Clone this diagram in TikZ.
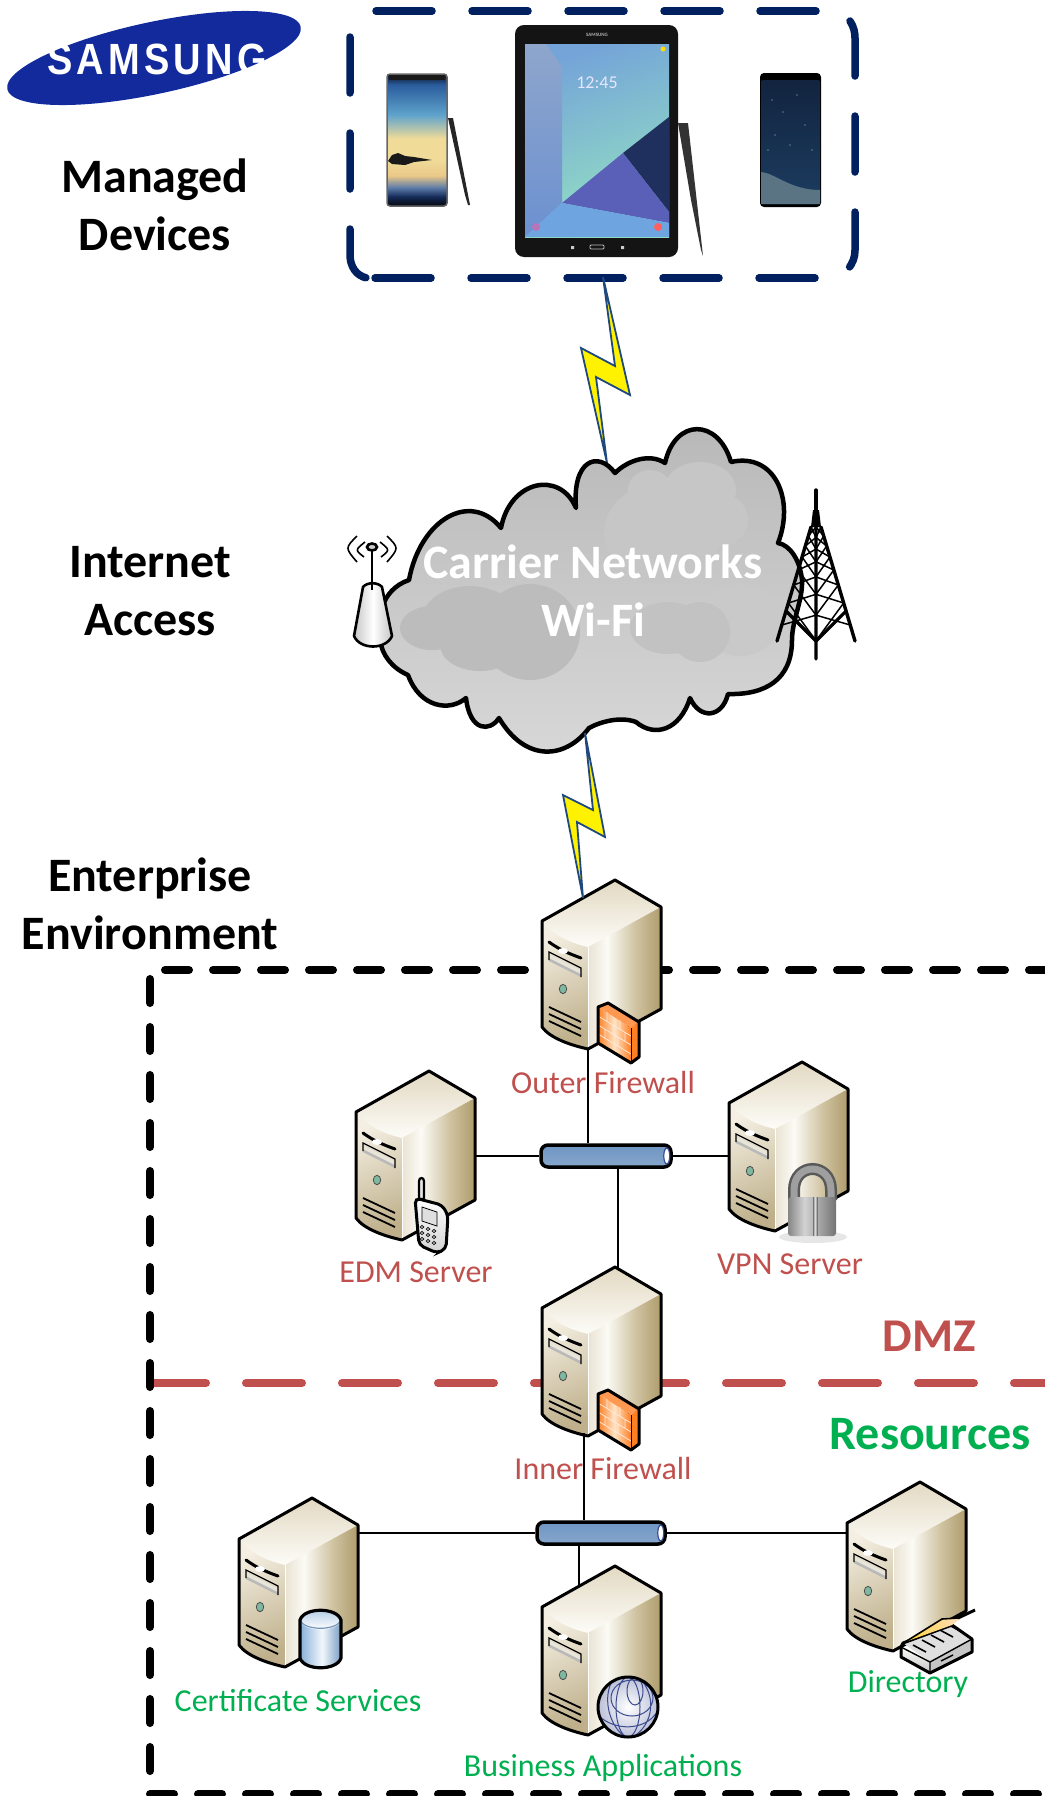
\documentclass[tikz,border=0pt]{standalone}
\usepackage{fontspec}
\usetikzlibrary{shapes.geometric,calc}
\setmainfont{Carlito}
\newfontfamily\logofont[LetterSpace=11.3]{Liberation Sans Bold}
\definecolor{navybox}{HTML}{002060}
\definecolor{dmzred}{HTML}{C0504D}
\definecolor{resgreen}{HTML}{00B050}
\definecolor{boltblue}{HTML}{1F497D}
\definecolor{logoblue}{HTML}{122A9C}
\definecolor{topa}{HTML}{E2D9C2}
\definecolor{topb}{HTML}{FDFCF8}
\definecolor{fronta}{HTML}{F4EFE2}
\definecolor{frontb}{HTML}{BFB08B}
\definecolor{righta}{HTML}{E9E3D2}
\definecolor{rightb}{HTML}{FBFAF5}
\definecolor{rightc}{HTML}{CFC2A0}
\definecolor{rightd}{HTML}{AF9C6C}
\definecolor{slota}{HTML}{E8E4D8}
\definecolor{leda}{HTML}{7FB8A0}
\definecolor{fwa}{HTML}{FF7F24}
\definecolor{fwb}{HTML}{FFE3C4}
\definecolor{tubea}{HTML}{6F95C2}
\definecolor{tubeb}{HTML}{B9CFE6}
\definecolor{tubec}{HTML}{86A7CC}
\definecolor{cyla}{HTML}{86AFD8}
\definecolor{cylb}{HTML}{F2F7FC}
\definecolor{globeline}{HTML}{3C4A8E}
\definecolor{cloudtop}{HTML}{B8B8B8}
\definecolor{cloudbot}{HTML}{D8D8D8}
\definecolor{nblack}{HTML}{0A0F1E}
\definecolor{nnavy}{HTML}{142A58}
\definecolor{nblue}{HTML}{2A5C9C}
\definecolor{nsky}{HTML}{5FA3CC}
\definecolor{npale}{HTML}{F0DC98}
\definecolor{ntan}{HTML}{EAC888}
\definecolor{nfade}{HTML}{5E7CA8}
\definecolor{tabstripa}{HTML}{8EA6CC}
\definecolor{tabstripb}{HTML}{6C90D0}
\definecolor{tealleft}{HTML}{74A4D8}
\definecolor{tealright}{HTML}{94E2C2}
\definecolor{tabnavy}{HTML}{20305E}
\definecolor{tabpurple}{HTML}{5A60B8}
\definecolor{tabblue}{HTML}{6EA4E0}
\definecolor{s8top}{HTML}{12243F}
\definecolor{s8bot}{HTML}{1C3C60}
\definecolor{s8wave}{HTML}{5A7484}
\pgfdeclarehorizontalshading{srvright}{100bp}{color(0bp)=(righta); color(25bp)=(righta); color(38bp)=(rightb); color(58bp)=(rightc); color(75bp)=(rightd); color(100bp)=(rightd)}
\pgfdeclarehorizontalshading{fwbrick}{100bp}{color(0bp)=(fwa); color(25bp)=(fwa); color(50bp)=(fwb); color(75bp)=(fwa); color(100bp)=(fwa)}
\pgfdeclarehorizontalshading{cylbody}{100bp}{color(0bp)=(cyla); color(25bp)=(cyla); color(52bp)=(cylb); color(75bp)=(cyla!90!black); color(100bp)=(cyla!90!black)}
\pgfdeclarehorizontalshading{lockbody}{100bp}{color(0bp)=(gray!95); color(25bp)=(gray!95); color(42bp)=(gray!35); color(55bp)=(gray!65); color(75bp)=(black!55); color(100bp)=(black!55)}
\pgfdeclareverticalshading{notescreen}{100bp}{color(0bp)=(nblack); color(26bp)=(nblack); color(28.5bp)=(nnavy); color(32bp)=(nfade); color(36.5bp)=(ntan); color(42.5bp)=(npale); color(50.5bp)=(npale); color(59.5bp)=(nsky); color(71bp)=(nblue); color(75bp)=(nblack); color(100bp)=(nblack)}
\tikzset{
  fontlarge/.style={font=\fontsize{48}{58}\selectfont\bfseries,align=center,inner sep=0,text=black},
  headred/.style={font=\fontsize{47}{52}\selectfont\bfseries,inner sep=0,text=dmzred},
  headgreen/.style={font=\fontsize{48}{52}\selectfont\bfseries,inner sep=0,text=resgreen},
  lblred/.style={font=\fontsize{32}{36}\selectfont,inner sep=0,text=dmzred},
  lblgreen/.style={font=\fontsize{32}{36}\selectfont,inner sep=0,text=resgreen},
  bluedash/.style={draw=navybox,line width=7.5,line cap=round,dash pattern=on 56 off 40},
  blackdash/.style={draw=black,line width=8,line cap=round,dash pattern=on 24 off 24},
  reddash/.style={draw=dmzred,line width=8,line cap=round,dash pattern=on 56 off 40},
  wire/.style={draw=black,line width=2.2},
  busnode/.style={draw=black,line width=3.5,rounded corners=7,minimum height=22,inner sep=0,top color=tubea,middle color=tubeb,bottom color=tubec},
  boltstyle/.style={draw=boltblue,fill=yellow,line width=1.8,line join=miter},
  server/.pic={
    \coordinate (-apex) at (0,0);
    \coordinate (-bot) at (-27,169);
    \coordinate (-botl) at (-31,166);
    \coordinate (-r) at (46,85);
    \coordinate (-l) at (-73,85);
    \coordinate (-tr) at (3,2);
    \coordinate (-tl) at (-32,18);
    \coordinate (-tm) at (-36,20);
    \shade[top color=topa,bottom color=topb] (0,0) -- (46,27) -- (-27,67) .. controls (-45,63) and (-62,55) .. (-73,41) -- cycle;
    \shade[shading=srvright] (46,27) -- (46,129) -- (-27,169) -- (-27,67) -- cycle;
    \shade[top color=fronta,bottom color=frontb,shading angle=25] (-73,41) .. controls (-62,55) and (-45,63) .. (-27,67) -- (-27,169) .. controls (-45,165) and (-65,158) .. (-73,147) -- cycle;
    \draw[white,line width=1] (-27,67) -- (-27,169);
    \draw[black,line width=3,line join=round] (0,0) -- (46,27) -- (46,129) -- (-27,169) .. controls (-45,165) and (-65,158) .. (-73,147) -- (-73,41) -- cycle;
    \fill[gray!55] (-66,74) -- (-34,90) -- (-34,97) -- (-66,81) -- cycle;
    \fill[slota] (-66,74) -- (-34,90) -- (-34,94) -- (-66,78) -- cycle;
    \draw[black,line width=1.2] (-66,80) -- (-66,72) -- (-34,88) -- (-34,97);
    \draw[black,line width=3,line cap=round] (-66,62) .. controls (-55,70) and (-45,74) .. (-34,78);
    \fill[white] (-52,71) ellipse (5 and 3);
    \draw[black!70,line width=.8,fill=leda] (-52,109) ellipse (3.7 and 4.7);
    \draw[black,line width=1.8] (-66,127) -- (-34,142) (-66,134) -- (-34,149) (-66,141) -- (-34,156);
  },
  firewall/.pic={
    \fill[fwa!80!white] (-17,127) -- (-7,123) -- (24,142) -- (16,148) -- cycle;
    \fill[fwa] (16,148) -- (24,142) -- (24,177) -- (16,183) -- cycle;
    \shade[shading=fwbrick] (-17,127) -- (16,148) -- (16,183) -- (-17,163) -- cycle;
    \draw[white!85!fwa,line width=.7] (-17,136) -- (16,156) (-17,145) -- (16,165) (-17,154) -- (16,174)
      (-8,132) -- (-8,141) (5,140) -- (5,149) (-2,145) -- (-2,154) (10,152) -- (10,161) (-10,149) -- (-10,158) (3,157) -- (3,166);
    \draw[black,line width=3,line join=round] (-17,127) -- (-7,123) -- (24,142) -- (24,177) -- (16,183) -- (-17,163) -- cycle;
    \draw[black,line width=1] (16,148) -- (16,183);
  },
  cellphone/.pic={
    \draw[black,line width=2.2,fill=gray!20] (-10,110) .. controls (-10,106) and (-5,106) .. (-5,110) -- (-5,128) -- (-10,128) -- cycle;
    \draw[black,line width=3,top color=white,bottom color=gray!35,rounded corners=5] (-14,127) -- (13,134) -- (19,144) -- (17,178) -- (8,182) -- (-10,174) -- cycle;
    \draw[black,line width=.8,fill=gray!25] (-7,136) -- (8,141) -- (8,155) -- (-7,150) -- cycle;
    \foreach \dx/\dy in {-7/156,-1/158,5/160,-7/162,-1/164,5/166,-7/168,-1/170,5/172}
      \draw[black,line width=.7,fill=white] (\dx,\dy) ellipse (1.8 and 1.6);
  },
  padlock/.pic={
    \fill[gray!35,opacity=.55] (11,175) ellipse (34 and 6);
    \draw[black!65,line width=12] (-8,138) -- (-8,128) .. controls (-8,100) and (29,100) .. (29,128) -- (29,138);
    \draw[gray!75,line width=7] (-8,138) -- (-8,128) .. controls (-8,100) and (29,100) .. (29,128) -- (29,138);
    \shade[shading=lockbody,rounded corners=3] (-14,135) rectangle (34,174);
    \draw[black!55,line width=1] (11,135) -- (11,174) (15,135) -- (15,174);
    \draw[gray!30,line width=1] (13,135) -- (13,174);
  },
  dbcyl/.pic={
    \shade[shading=cylbody] (-12,122) -- (-12,160) .. controls (-8,173) and (25,173) .. (29,160) -- (29,122) -- cycle;
    \shade[top color=cyla!60!white,bottom color=white] (8.5,122) ellipse (20.5 and 9.5);
    \draw[cyla!85!black,line width=1.2] (-12,122) .. controls (-8,133) and (25,133) .. (29,122);
    \draw[black,line width=3.2] (-12,122) -- (-12,160) .. controls (-8,173) and (25,173) .. (29,160) -- (29,122) .. controls (25,109) and (-8,109) .. (-12,122) -- cycle;
  },
  globe/.pic={
    \shade[inner color=white,outer color=globeline!35!white] (13,141) ellipse (30 and 30);
    \draw[globeline,line width=1] (13,141) ellipse (12 and 30) (20,125) ellipse (8 and 14) (17,132) ellipse (21 and 18)
      (-16,150) .. controls (0,165) and (30,165) .. (42,146) (-4,117) .. controls (-12,135) and (-5,160) .. (10,171) (28,116) .. controls (42,135) and (36,160) .. (18,171);
    \draw[black,line width=3] (13,141) ellipse (30 and 30);
  },
  dirbox/.pic={
    \shade[top color=topb,bottom color=gray!45] (-22,165) -- (-22,175) -- (7,191) -- (7,180) -- cycle;
    \fill[gray!45] (7,180) -- (49,157) -- (49,170) -- (7,191) -- cycle;
    \fill[gray!25] (-20,161) -- (29,143) -- (49,157) -- (7,180) -- cycle;
    \foreach \i in {0,1,2,3,4}
      \draw[black,line width=1.6] ({-10+\i*9},{163-\i*5}) -- ({3+\i*9},{170-\i*5});
    \draw[black,line width=1.4] (18,179) -- (30,173) (30,180) -- (40,175);
    \draw[black,line width=3,line join=round] (-20,161) -- (-22,165) -- (-22,175) -- (7,191) -- (49,170) -- (49,157) -- (29,143) -- cycle;
    \draw[black,line width=1.4] (7,180) -- (49,157) (-22,165) -- (7,180) -- (7,191);
    \shade[left color=orange!45!yellow!80,right color=orange!25!white] (-18,160) -- (19,137) -- (37,137) -- (29,143) -- cycle;
    \draw[black,line width=1.6] (-18,160) -- (19,137) -- (35,136);
    \draw[black,line width=3] (35,136) -- (52,128);
  },
}
\begin{document}
\begin{tikzpicture}[x=1pt,y=-1pt]
\useasboundingbox (0,0) rectangle (1044,1796);
% --- logo
\node[ellipse,fill=logoblue,minimum width=300,minimum height=72,inner sep=0,rotate=12] (logo) at (154,58) {};
\node[inner sep=0,text=white,font=\fontsize{38}{40}\logofont,yscale=1.15,transform shape] (samsung) at (157,59) {SAMSUNG};
% --- headings
\node[fontlarge] (managed) at (155,205) {Managed\\Devices};
\node[fontlarge] (internet) at (150,591) {Internet\\Access};
\node[fontlarge] (enterprise) at (150,904) {Enterprise\\Environment};
% --- devices box
\foreach \yy/\st in {11/376,278/375}
  \draw[bluedash] (\st,\yy) -- (825,\yy);
\draw[bluedash] (350,37) -- (350,255) .. controls (350,266) and (356,276) .. (367,278);
\draw[bluedash] (850,21) .. controls (854,27) and (855,33) .. (855,38) -- (855,250) .. controls (855,257) and (853,263) .. (848,269);
% phone left
\draw[black!60,line width=1.5,rounded corners=3,shading=notescreen] (387,74) rectangle (447,206);
\fill[black!90] (389,75) rectangle (445,80);
\fill[black!90] (388,161) -- (392,155) -- (398,153) -- (405,156) -- (414,157) -- (432,160) -- (414,162) -- (405,165) -- (392,164) -- cycle;
\fill[black!85] (448,118) -- (453,118) -- (470,205) -- (468,205) -- (465,195) -- cycle;
% tablet
\fill[black!92,rounded corners=9] (515,25) rectangle (678,257);
\shade[left color=tealleft,right color=tealright,shading angle=20] (525,44) rectangle (669,237);
\shade[top color=tabstripa,bottom color=tabstripb] (525,44) -- (546,44) -- (562,67) -- (562,203) -- (525,237) -- cycle;
\fill[tabnavy] (669,117) -- (623,153) -- (669,212) -- cycle;
\fill[tabpurple] (623,153) -- (562,203) -- (669,223) -- (669,212) -- cycle;
\fill[tabblue] (562,203) -- (525,237) -- (669,237) -- (669,223) -- cycle;
\node[inner sep=0,text=white!90!blue,font=\fontsize{18}{20}\selectfont] (clock) at (597,83) {12:45};
\node[inner sep=0,text=white!70!black,font=\fontsize{5}{6}\bfseries\selectfont] (tabbrand) at (597,35) {SAMSUNG};
\fill[violet!55!white] (536,227) circle (4);
\fill[red!50!pink] (658,227) circle (4);
\fill[yellow!80!orange] (663,49) circle (2.5);
\draw[gray!50,line width=.8,rounded corners=1] (590,245) rectangle (604,249);
\fill[gray!40] (571,246) rectangle (574,249) (621,246) rectangle (624,249);
\fill[black!80] (678,123) -- (688,123) -- (703,256) -- (701,250) -- (691,200) -- cycle;
% phone right
\fill[black,rounded corners=4] (760,73) rectangle (821,207);
\shade[top color=s8top,bottom color=s8bot,rounded corners=2] (761,80) rectangle (820,204);
\fill[s8wave] (761,172) .. controls (775,173) and (790,190) .. (820,190) -- (820,204) -- (761,204) -- cycle;
\foreach \sx/\sy in {772/100,783/112,797/95,805/125,775/135,790/145,812/150,768/150}
  \fill[white!75!blue] (\sx,\sy) circle (.6);
% --- bolts
\coordinate (topbolt) at (603,277);
\coordinate (topend) at (607,463);
\draw[boltstyle] (topbolt) -- (630,395) -- (596,377) -- (topend) -- (581,348) -- (615,366) -- cycle;
% --- cloud
\def\cloudpath{(615,473) .. controls (628,460) and (650,453) .. (665,463)
  .. controls (675,418) and (718,418) .. (731,462)
  .. controls (775,452) and (795,500) .. (778,543)
  .. controls (790,545) and (800,560) .. (802,580)
  .. controls (803,600) and (792,620) .. (792,640)
  .. controls (792,680) and (765,695) .. (728,694)
  .. controls (722,718) and (700,720) .. (690,698)
  .. controls (680,730) and (655,738) .. (636,722)
  .. controls (620,716) and (600,722) .. (589,728)
  .. controls (565,760) and (525,762) .. (499,718)
  .. controls (490,732) and (470,732) .. (466,698)
  .. controls (450,712) and (420,708) .. (408,675)
  .. controls (392,668) and (382,655) .. (380,640)
  .. controls (377,620) and (380,590) .. (409,580)
  .. controls (420,520) and (470,490) .. (501,528)
  .. controls (510,480) and (560,470) .. (576,508)
  .. controls (572,460) and (598,450) .. (615,473) -- cycle}
\shade[top color=cloudtop,bottom color=cloudbot] \cloudpath;
\begin{scope}
\clip \cloudpath;
\definecolor{blobd}{HTML}{BCBCBC}
\definecolor{blobe}{HTML}{C2C2C2}
\definecolor{blobf}{HTML}{C9C9C9}
\definecolor{blobg}{HTML}{C6C6C6}
\fill[blobg] (662,533) ellipse (58 and 50) (700,490) ellipse (36 and 28) (650,490) ellipse (22 and 20) (722,520) ellipse (26 and 26);
\fill[blobd] (432,628) ellipse (32 and 22) (470,620) ellipse (48 and 34) (530,632) ellipse (50 and 48) (480,645) ellipse (40 and 26);
\fill[blobf] (740,620) ellipse (40 and 36);
\fill[blobe] (668,628) ellipse (38 and 26) (700,632) ellipse (30 and 30);
\end{scope}
\draw[black,line width=4.5,line join=round] \cloudpath;
\node[fontlarge,text=white] (carrier) at (593,591) {Carrier Networks\\Wi-Fi};
% antenna
\shade[left color=gray!45,right color=gray!45,middle color=white] (363,585) -- (354,636) .. controls (360,650) and (386,650) .. (392,636) -- (382,585) -- cycle;
\draw[black,line width=2.6,line join=round] (363,587) -- (354,636) .. controls (360,650) and (386,650) .. (392,636) -- (382,587) .. controls (378,582) and (367,582) .. (363,587) -- cycle;
\draw[black,line width=2.6] (372,590) -- (372,550);
\draw[black,line width=2.6,fill=gray!40] (372,547) ellipse (5 and 3.5);
\draw[black,line width=1.6] (357,536) .. controls (345,548) .. (357,562) (365,542) .. controls (355,550) .. (364,557)
  (387,536) .. controls (399,548) .. (387,562) (380,542) .. controls (390,550) .. (381,557);
% tower
\draw[black,line width=3.4,line cap=round] (816,490) -- (816,510);
\fill[black] (811,527) -- (813,510) -- (819,510) -- (821,527) -- cycle;
\draw[black,line width=3.4,line cap=round] (816,527) -- (816,659) (811,527) -- (777,641) (821,527) -- (855,641);
\foreach \ya/\yb in {527/536,536/546,546/557,557/570,570/585,585/603,603/625}{
  \pgfmathsetmacro\xla{811-(\ya-527)*0.298}
  \pgfmathsetmacro\xlb{811-(\yb-527)*0.298}
  \pgfmathsetmacro\xra{821+(\ya-527)*0.298}
  \pgfmathsetmacro\xrb{821+(\yb-527)*0.298}
  \pgfmathsetmacro\cya{\ya+(\ya-527)*0.16}
  \pgfmathsetmacro\cyb{\yb+(\yb-527)*0.16}
  \draw[black,line width=1.5] (\xla,\ya) -- (816,\cyb) -- (\xra,\ya) (\xlb,\yb) -- (816,\cya) -- (\xrb,\yb);
}
\draw[black,line width=3.2] (786,611) -- (816,641) -- (846,611);
% lower bolt
\coordinate (lowbolt) at (585,733);
% --- enterprise environment
\draw[reddash] (150,1383) -- (1050,1383);
\draw[blackdash] (165,970) -- (1050,970);
\draw[blackdash] (150,979) -- (150,1790);
\draw[blackdash] (150,1794) -- (1050,1794);
% --- buses
\node[busnode,minimum width=130] (busa) at (606,1156) {};
\node[busnode,minimum width=128] (busb) at (601,1533) {};
% --- servers
\pic (outer) at (615,880) {server};
\pic at (615,880) {firewall};
\pic (edm) at (429,1071) {server};
\pic (vpn) at (802,1062) {server};
\pic (inner) at (615,1267) {server};
\pic at (615,1267) {firewall};
\pic (cert) at (312,1498) {server};
\pic (bus) at (615,1566) {server};
\pic (dir) at (920,1482) {server};
% --- connectors
\draw[wire] (outer-bot) -- (busa.north -| outer-bot);
\draw[wire] (busa.west) -- (busa.west -| edm-r);
\draw[wire] (busa.east) -- (busa.east -| vpn-l);
\draw[wire] (busa.south -| inner-tr) -- (inner-tr);
\draw[wire] (inner-botl) -- (busb.north -| inner-botl);
\draw[wire] (busb.west) -- (busb.west -| cert-r);
\draw[wire] (busb.east) -- (busb.east -| dir-l);
\draw[wire] (busb.south -| bus-tm) -- (bus-tm);
\draw[globeline,fill=white,line width=1.2] ([xshift=-6pt]busa.east) ellipse (3 and 8);
\draw[globeline,fill=white,line width=1.2] ([xshift=-6pt]busb.east) ellipse (3 and 8);
\draw[boltstyle] (lowbolt) -- (605,837) -- (577,822) -- (outer-tl) -- (563,795) -- (593,810) -- cycle;
% --- badges
\pic at (429,1071) {cellphone};
\pic at (802,1062) {padlock};
\pic at (312,1498) {dbcyl};
\pic at (615,1566) {globe};
\pic at (923,1482) {dirbox};
% --- labels
\node[lblred] (lblouter) at (603,1082) {Outer Firewall};
\node[lblred] (lbledm) at (416,1272) {EDM Server};
\node[lblred] (lblvpn) at (790,1264) {VPN Server};
\node[lblred] (lblinner) at (603,1468) {Inner Firewall};
\node[lblgreen] (lblcert) at (298,1701) {Certificate Services};
\node[lblgreen] (lbldir) at (908,1684) {Directory};
\node[lblgreen] (lblbus) at (603,1768) {Business Applications};
\node[headred] (dmz) at (929,1336) {DMZ};
\node[headgreen] (resources) at (930,1434) {Resources};
\end{tikzpicture}
\end{document}
